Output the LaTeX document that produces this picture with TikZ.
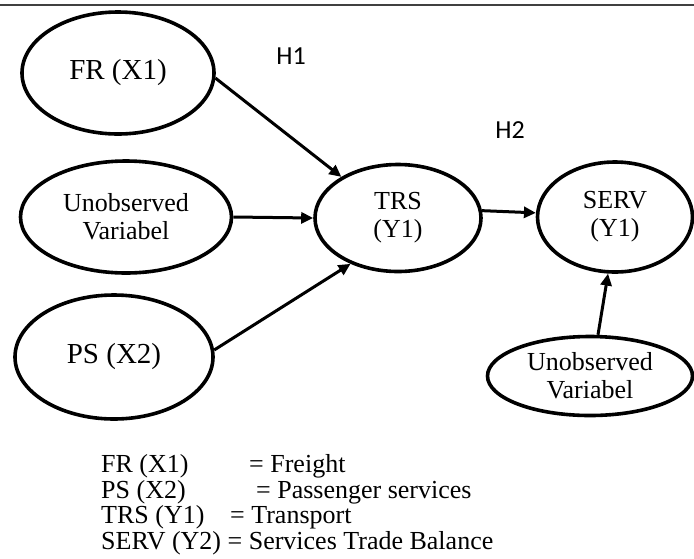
\documentclass[tikz,border=0pt]{standalone}
\usepackage{fontspec}
\setmainfont{Liberation Serif}
\newfontfamily\hfont{Carlito}
\usetikzlibrary{shapes.geometric,arrows.meta}
\tikzset{
  var/.style={draw, ellipse, line width=3.6pt, inner sep=0pt, align=center,
    font=\fontsize{26}{28}\selectfont},
  bigvar/.style={var, font=\fontsize{29}{31}\selectfont},
  link/.style={line width=3pt, -{Triangle[length=12pt,width=11pt]}},
  hyp/.style={font=\hfont\fontsize{26}{28}\selectfont, inner sep=0pt},
  leg/.style={anchor=base west, inner sep=0pt, font=\fontsize{26}{28}\selectfont},
}
\begin{document}
\begin{tikzpicture}[x=1pt, y=-1pt]
\useasboundingbox (0,0) rectangle (694,558);
\coordinate (rl) at (0,4.5);
\coordinate (rr) at (694,4.5);
\draw[line width=2pt, black!75] (rl) -- (rr);

\node[bigvar, minimum width=192pt, minimum height=122pt] (FR) at (118,73) {FR (X1)};
\node[var, minimum width=211pt, minimum height=112pt] (U1) at (126,217) {Unobserved\\Variabel};
\node[bigvar, minimum width=198pt, minimum height=124pt] (PS) at (114,357) {PS (X2)};
\node[var, minimum width=166pt, minimum height=107pt] (TRS) at (398,218) {TRS\\(Y1)};
\node[var, minimum width=155pt, minimum height=110pt] (SERV) at (615,217) {SERV\\(Y1)};
\node[var, minimum width=205pt, minimum height=79pt] (U2) at (590,376) {Unobserved\\Variabel};

\node[hyp] (H1) at (291,56) {H1};
\node[hyp] (H2) at (510,130) {H2};

\draw[link] (FR.-3) -- (TRS.144);
\draw[link] (U1.east) -- (TRS.west);
\draw[link] (PS.4) -- (TRS.224);
\draw[link] (TRS.5) -- (SERV.177);
\draw[link] (U2.79) -- (SERV.263);

\node[leg] (la1) at (101,472) {FR (X1)};
\node[leg] (lb1) at (249,472) {= Freight};
\node[leg] (la2) at (101,498) {PS (X2)};
\node[leg] (lb2) at (256,498) {= Passenger services};
\node[leg] (la3) at (101,523) {TRS (Y1)};
\node[leg] (lb3) at (230,523) {= Transport};
\node[leg] (l4) at (101,549) {SERV (Y2) = Services Trade Balance};
\end{tikzpicture}
\end{document}
